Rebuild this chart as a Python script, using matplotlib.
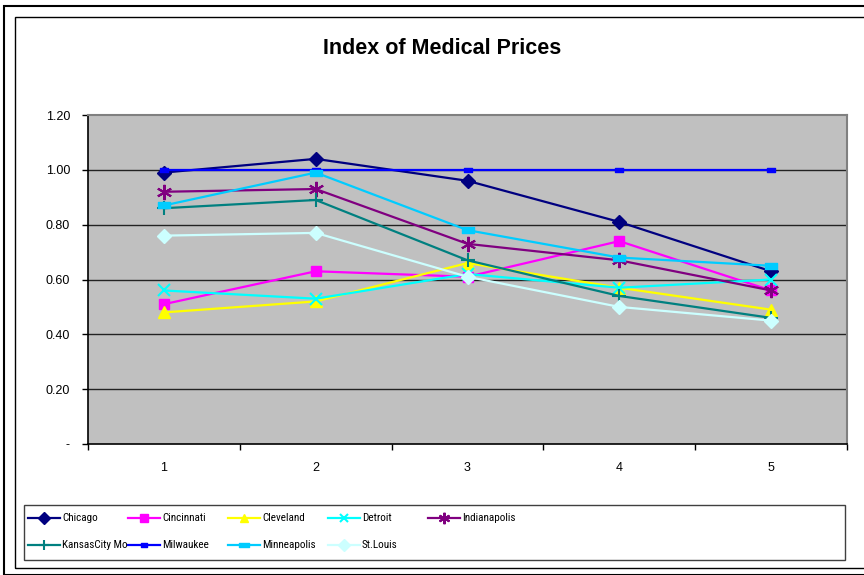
import numpy as np
import matplotlib
matplotlib.use('Agg')
import matplotlib.pyplot as plt
from matplotlib import font_manager
from matplotlib.lines import Line2D
from matplotlib.patches import Rectangle
from matplotlib.path import Path

plt.rcParams['font.family'] = ['Liberation Sans', 'DejaVu Sans']
installed = {f.name for f in font_manager.fontManager.ttflist}
narrow = None
for cand in ['Liberation Sans Narrow', 'DejaVu Sans Condensed', 'Roboto Condensed',
             'Open Sans Condensed', 'Noto Sans Condensed']:
    if cand in installed:
        narrow = cand
        break

periods = [1, 2, 3, 4, 5]
y_ticks = [0, 0.2, 0.4, 0.6, 0.8, 1.0, 1.2]
y_labels = ['-', '0.20', '0.40', '0.60', '0.80', '1.00', '1.20']

chicago = [0.99, 1.04, 0.96, 0.81, 0.63]
cincinnati = [0.51, 0.63, 0.61, 0.74, 0.56]
cleveland = [0.48, 0.52, 0.66, 0.57, 0.49]
detroit = [0.56, 0.53, 0.62, 0.57, 0.60]
indianapolis = [0.92, 0.93, 0.73, 0.67, 0.56]
kansas_city = [0.86, 0.89, 0.67, 0.54, 0.46]
milwaukee = [1.00, 1.00, 1.00, 1.00, 1.00]
minneapolis = [0.87, 0.99, 0.78, 0.68, 0.65]
st_louis = [0.76, 0.77, 0.61, 0.50, 0.45]

# Excel-like rectangle markers
wide_rect = Path([(-1, -0.5), (1, -0.5), (1, 0.5), (-1, 0.5), (-1, -0.5)],
                 [Path.MOVETO, Path.LINETO, Path.LINETO, Path.LINETO, Path.CLOSEPOLY])

series = [
    ('Chicago', chicago, '#000080', 'D', 7.5),
    ('Cincinnati', cincinnati, '#FF00FF', 's', 7.5),
    ('Cleveland', cleveland, '#FFFF00', '^', 8.5),
    ('Detroit', detroit, '#00FFFF', 'x', 8.5),
    ('Indianapolis', indianapolis, '#800080', (6, 2, 0), 11),
    ('KansasCity Mo', kansas_city, '#008080', '+', 10),
    ('Milwaukee', milwaukee, '#0000FF', wide_rect, 6),
    ('Minneapolis', minneapolis, '#00CCFF', wide_rect, 9),
    ('St.Louis', st_louis, '#CCFFFF', 'D', 7.5),
]

W, H = 864, 575
fig = plt.figure(figsize=(W / 100, H / 100), dpi=100)
fig.patch.set_facecolor('white')

# outer frames
fig.add_artist(Rectangle((4 / W, 1 - 575 / H), 1.2, (575 - 6) / H, transform=fig.transFigure,
                         fill=False, edgecolor='black', linewidth=1.5))
fig.add_artist(Rectangle((15 / W, 1 - 568 / H), 1.2, (568 - 17) / H, transform=fig.transFigure,
                         fill=False, edgecolor='black', linewidth=1.0))

ax = fig.add_axes([88 / W, 1 - 444 / H, (847 - 88) / W, (444 - 115) / H])
ax.set_facecolor('#C0C0C0')

for name, vals, color, marker, ms in series:
    mew = 1.5 if marker in ('x', '+', (6, 2, 0)) else 1
    ax.plot(periods, vals, color=color, linewidth=1.6, marker=marker, markersize=ms,
            markerfacecolor=color, markeredgecolor=color, markeredgewidth=mew, zorder=3)

ax.set_xlim(0.5, 5.5)
ax.set_ylim(0, 1.2)
ax.set_yticks(y_ticks)
ax.set_yticklabels(y_labels, fontsize=9)
ax.set_xticks(np.arange(0.5, 6, 1))
ax.set_xticklabels([])
ax.set_xticks(periods, minor=True)
ax.set_xticklabels([str(p) for p in periods], minor=True, fontsize=9)
ax.tick_params(axis='x', which='major', direction='out', length=4, width=1)
ax.tick_params(axis='x', which='minor', length=0, pad=13)
ax.tick_params(axis='y', direction='out', length=4, width=1, pad=9)

for v in y_ticks[1:-1]:
    ax.axhline(v, color='#222222', linewidth=1, zorder=1)

ax.spines['left'].set_color('black')
ax.spines['bottom'].set_color('black')
ax.spines['left'].set_linewidth(1.2)
ax.spines['bottom'].set_linewidth(1.2)
ax.spines['top'].set_color('#808080')
ax.spines['right'].set_color('#808080')
ax.spines['top'].set_linewidth(1.5)
ax.spines['right'].set_linewidth(1.5)

fig.text(442 / W, 1 - 48 / H, 'Index of Medical Prices', ha='center', va='center',
         fontsize=15.5, fontweight='bold')

# legend box
fig.add_artist(Rectangle((24 / W, 1 - 560 / H), (845 - 24) / W, (560 - 505) / H,
                         transform=fig.transFigure, fill=False, edgecolor='#404040', linewidth=1))
leg_family = [narrow, 'Liberation Sans'] if narrow else ['Liberation Sans']
leg_size = 8 if narrow else 7.2
for i, (name, vals, color, marker, ms) in enumerate(series):
    col, row = i % 5, i // 5
    x0 = 28 + col * 100
    yy = 1 - (518 + row * 27) / H
    mew = 1.5 if marker in ('x', '+', (6, 2, 0)) else 1
    fig.add_artist(Line2D([x0 / W, (x0 + 32) / W], [yy, yy], transform=fig.transFigure,
                          color=color, linewidth=1.6))
    fig.add_artist(Line2D([(x0 + 16) / W], [yy], transform=fig.transFigure, color=color,
                          marker=marker, markersize=ms * 0.75, markerfacecolor=color,
                          markeredgecolor=color, markeredgewidth=mew))
    fig.text((x0 + 34) / W, yy, name, ha='left', va='center', fontsize=leg_size,
             family=leg_family)

fig.savefig('out.png', dpi=100)
